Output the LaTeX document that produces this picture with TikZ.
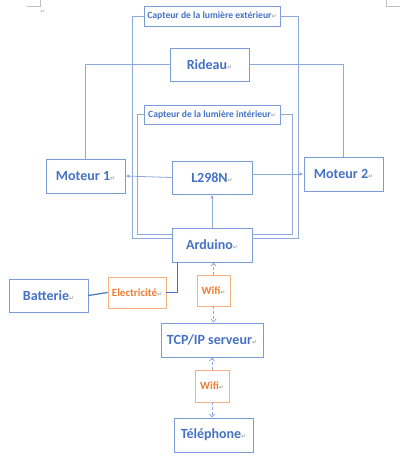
\documentclass[tikz,border=0pt]{standalone}
\usepackage{fontspec}
\setmainfont{Carlito}
\newfontfamily\markfont{DejaVu Sans}
\usetikzlibrary{arrows.meta}
\definecolor{boxblue}{HTML}{7A9BD8}
\definecolor{textblue}{HTML}{4472C4}
\definecolor{lineblue}{HTML}{8EAADB}
\definecolor{boxorange}{HTML}{F4B183}
\definecolor{textorange}{HTML}{ED7D31}
\newcommand{\pmark}{{\markfont\fontsize{6}{6}\selectfont\textcolor{black!35}{↵}}}

\begin{document}
\begin{tikzpicture}[x=1pt, y=-1pt,
		bigbox/.style={draw=boxblue, line width=0.9pt, text=textblue, font=\bfseries\fontsize{14}{16}\selectfont, inner sep=0pt, align=center},
		smallbox/.style={draw=boxblue, line width=0.9pt, text=textblue, font=\bfseries\fontsize{9.6}{11}\selectfont, inner sep=0pt, align=center},
		orangebox/.style={draw=boxorange, line width=0.9pt, text=textorange, font=\bfseries\fontsize{11}{13}\selectfont, inner sep=0pt, align=center},
		wire/.style={draw=lineblue, line width=0.8pt},
		feed/.style={draw=textblue, line width=1.2pt},
		solidarrow/.style={draw=lineblue, line width=0.8pt, -{Latex[length=4pt, width=3.5pt]}, color=lineblue},
		wifiarrow/.style={draw=lineblue, line width=0.8pt, dashed, dash pattern=on 3pt off 2pt, -{Straight Barb[length=3pt, width=5pt]}}]
		%%%%% START %%%%%
		
		\useasboundingbox (0,0) rectangle (400,460);
		
		% page corner marks
		\draw[black!25, line width=0.6pt] (27,6) -- (40,6) -- (40,0);
		\draw[black!25, line width=0.6pt] (400,6) -- (386,6) -- (386,0);
		\node (topmark) at (43,12) {\pmark};
		
		\node[smallbox, minimum width=136pt, minimum height=20pt] (capext) at (212,16) {Capteur de la lumière extérieur\pmark};
		\node[bigbox, minimum width=79pt, minimum height=33pt] (rideau) at (209.5,64.5) {Rideau\pmark};
		\node[smallbox, minimum width=136pt, minimum height=19pt] (capint) at (212,114.5) {Capteur de la lumière intérieur\pmark};
		
		\node[bigbox, minimum width=79pt, minimum height=34pt] (moteur1) at (85.5,176) {Moteur 1\pmark};
		\node[bigbox, minimum width=80pt, minimum height=33pt] (l298n) at (212,177.5) {L298N\pmark};
		\node[bigbox, minimum width=79pt, minimum height=34pt] (moteur2) at (343.5,174) {Moteur 2\pmark};
		
		\node[bigbox, minimum width=80pt, minimum height=34pt] (arduino) at (212,245) {Arduino\pmark};
		\node[bigbox, minimum width=79pt, minimum height=33pt] (batterie) at (48.5,295.5) {Batterie\pmark};
		\node[orangebox, minimum width=58pt, minimum height=31pt] (elec) at (137,292.5) {Electricité\pmark};
		\node[orangebox, minimum width=33pt, minimum height=31pt] (wifia) at (213.5,290.5) {Wifi\pmark};
		
		\node[bigbox, minimum width=102pt, minimum height=34pt] (tcp) at (212,340) {TCP/IP serveur\pmark};
		\node[orangebox, minimum width=34pt, minimum height=32pt] (wifib) at (212,386) {Wifi\pmark};
		\node[bigbox, minimum width=79pt, minimum height=34pt] (tel) at (213.5,435) {Téléphone\pmark};
		
		% sensor loops
		\coordinate (outerleft) at (132,238);
		\coordinate (outerright) at (298,238);
		\coordinate (innerleft) at (137,234);
		\coordinate (innerright) at (292,234);
		\draw[wire] (capext.west) -| (outerleft) -- (arduino.west |- outerleft);
		\draw[wire] (capext.east) -| (outerright) -- (arduino.east |- outerright);
		\draw[wire] (capint.west) -| (innerleft) -- (arduino.west |- innerleft);
		\draw[wire] (capint.east) -| (innerright) -- (arduino.east |- innerright);
		
		% curtain and motors
		\draw[wire] (rideau.west) -| (moteur1.north);
		\draw[wire] (rideau.east) -| (moteur2.north);
		\draw[solidarrow] (l298n.west) -- (moteur1.east);
		\draw[solidarrow] (l298n.east |- moteur2.west) -- (moteur2.west);
		\draw[solidarrow] (arduino.north) -- (l298n.south);
		
		% power
		\draw[feed] (batterie.east) -- (elec.west);
		\draw[feed] (elec.east) -| ([xshift=6pt]arduino.south west);
		
		% wifi links
		\draw[wifiarrow] (wifia.north) -- (wifia.north |- arduino.south);
		\draw[wifiarrow] (wifia.south) -- (wifia.south |- tcp.north);
		\draw[wifiarrow] (wifib.north) -- (wifib.north |- tcp.south);
		\draw[wifiarrow] (wifib.south) -- (wifib.south |- tel.north);
		
		%%%%% END %%%%%
\end{tikzpicture}
\end{document}
